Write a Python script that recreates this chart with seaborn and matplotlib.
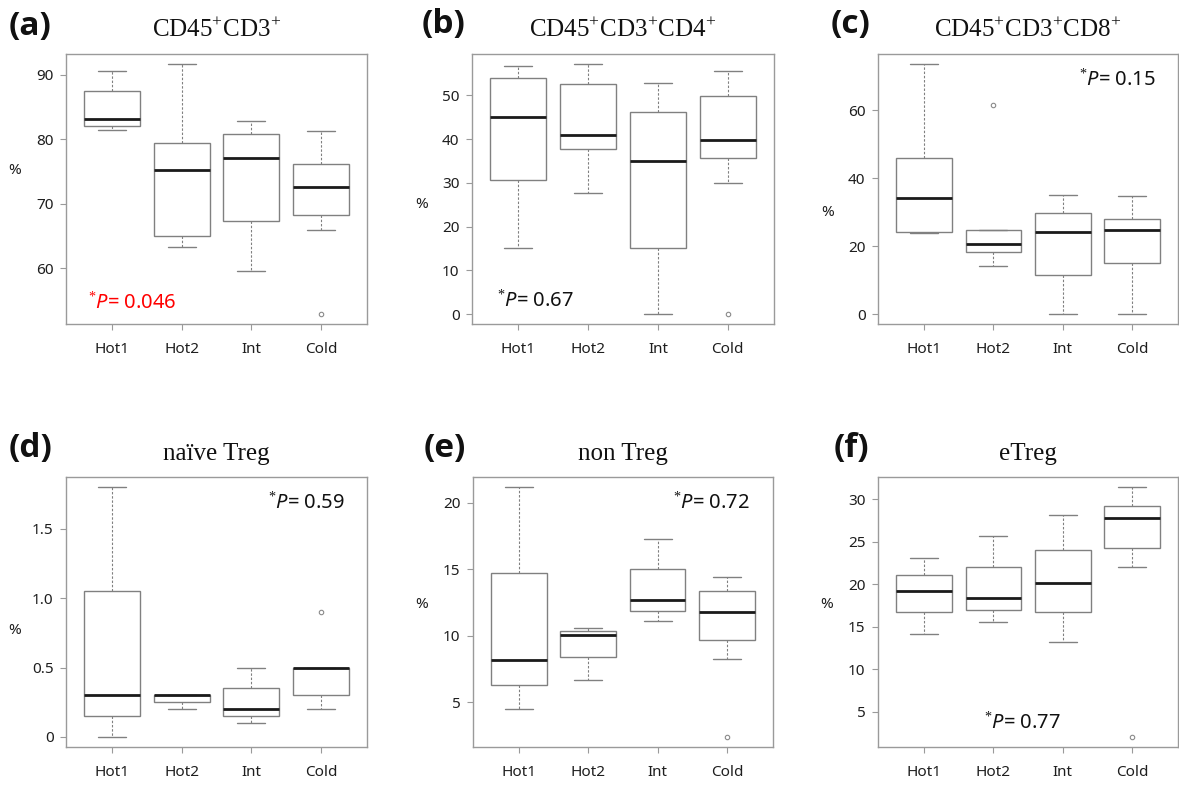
import matplotlib
matplotlib.use("Agg")
import matplotlib.pyplot as plt
import numpy as np
import pandas as pd
import seaborn as sns

# ---- data -------------------------------------------------------------
groups = ["Hot1", "Hot2", "Int", "Cold"]

cd3_values = [
    [81.5, 82.15, 83.1, 87.45, 90.6],
    [63.3, 65.0, 75.3, 79.45, 91.7],
    [59.6, 67.4, 77.1, 80.8, 82.8],
    [52.9, 66.0, 68.3, 70.5, 72.6, 74.5, 76.2, 79.0, 81.3],
]
cd4_values = [
    [15.2, 30.55, 45.1, 53.9, 56.7],
    [27.6, 37.8, 41.05, 52.6, 57.2],
    [0.0, 15.2, 34.9, 46.2, 52.9],
    [0.0, 30.0, 35.7, 37.5, 39.7, 45.0, 49.9, 53.0, 55.7],
]
cd8_values = [
    [23.9, 24.2, 34.2, 46.0, 73.7],
    [14.1, 16.0, 18.2, 19.5, 20.6, 22.5, 24.8, 24.8, 61.6],
    [0.0, 11.5, 24.1, 29.8, 35.0],
    [0.0, 15.0, 24.9, 28.1, 34.7],
]
naive_treg_values = [
    [0.0, 0.15, 0.3, 1.05, 1.8],
    [0.2, 0.25, 0.3, 0.3, 0.3],
    [0.1, 0.15, 0.2, 0.35, 0.5],
    [0.2, 0.25, 0.3, 0.4, 0.5, 0.5, 0.5, 0.5, 0.9],
]
non_treg_values = [
    [4.5, 6.33, 8.2, 14.7, 21.2],
    [6.7, 8.4, 10.1, 10.4, 10.6],
    [11.1, 11.9, 12.7, 15.0, 17.3],
    [2.4, 8.3, 9.7, 10.8, 11.8, 12.6, 13.4, 14.0, 14.4],
]
etreg_values = [
    [14.2, 16.7, 19.2, 21.15, 23.1],
    [15.6, 16.95, 18.45, 22.05, 25.7],
    [13.2, 16.7, 20.2, 24.05, 28.1],
    [2.05, 22.1, 24.25, 26.5, 27.8, 28.5, 29.2, 30.5, 31.45],
]

panel_letters = ["(a)", "(b)", "(c)", "(d)", "(e)", "(f)"]
panel_titles = [
    r"CD45$^{+}$CD3$^{+}$",
    r"CD45$^{+}$CD3$^{+}$CD4$^{+}$",
    r"CD45$^{+}$CD3$^{+}$CD8$^{+}$",
    "naïve Treg",
    "non Treg",
    "eTreg",
]
p_values = ["0.046", "0.67", "0.15", "0.59", "0.72", "0.77"]
y_ticks = [
    [60, 70, 80, 90],
    [0, 10, 20, 30, 40, 50],
    [0, 20, 40, 60],
    [0, 0.5, 1.0, 1.5],
    [5, 10, 15, 20],
    [5, 10, 15, 20, 25, 30],
]
y_tick_labels = [
    ["60", "70", "80", "90"],
    ["0", "10", "20", "30", "40", "50"],
    ["0", "20", "40", "60"],
    ["0", "0.5", "1.0", "1.5"],
    ["5", "10", "15", "20"],
    ["5", "10", "15", "20", "25", "30"],
]
all_values = [cd3_values, cd4_values, cd8_values,
              naive_treg_values, non_treg_values, etreg_values]

# ---- style ------------------------------------------------------------
sns.set_style("ticks")
plt.rcParams["font.family"] = ["Noto Sans", "DejaVu Sans"]
plt.rcParams["mathtext.fontset"] = "custom"
plt.rcParams["mathtext.rm"] = "Liberation Serif"
plt.rcParams["mathtext.it"] = "Noto Sans:italic"
plt.rcParams["mathtext.bf"] = "Liberation Serif:bold"

W, H = 1179, 786
fig = plt.figure(figsize=(W / 100, H / 100), dpi=100)
fig.patch.set_facecolor("white")

# axes boxes in pixels: left, top, right, bottom
boxes = [
    (66, 54, 367, 324), (472, 54, 774, 324), (878, 54, 1178, 324),
    (66, 477, 367, 747), (473, 477, 773, 747), (878, 477, 1178, 747),
]
# annotation placement (axes fraction)
p_pos = [(0.073, 0.08), (0.083, 0.085), (0.671, 0.904),
         (0.671, 0.904), (0.667, 0.904), (0.352, 0.089)]
p_colors = ["#ff0000", "#111111", "#111111", "#111111", "#111111", "#111111"]
letter_pos = [(9, 26), (422, 25), (831, 25), (9, 448), (424, 448), (834, 448)]
pct_pos = [(15, 171), (422, 205), (828, 213), (15, 630), (422, 604), (827, 604)]

frame_col = "#9a9a9a"
box_col = "#808080"


def px(x, y):
    return x / W, 1 - y / H


for i, (values, box) in enumerate(zip(all_values, boxes)):
    l, t, r, b = box
    ax = fig.add_axes([l / W, 1 - b / H, (r - l) / W, (b - t) / H])
    df = pd.DataFrame({
        "group": np.concatenate([[g] * len(v) for g, v in zip(groups, values)]),
        "value": np.concatenate(values),
    })
    sns.boxplot(
        data=df, x="group", y="value", order=groups, ax=ax,
        width=0.8, color="white", linecolor=box_col, linewidth=1.0,
        whis=1.5, fliersize=3.2,
        medianprops=dict(color="#1a1a1a", linewidth=2.0),
        whiskerprops=dict(linestyle=(0, (2.2, 1.6)), linewidth=0.8),
        capprops=dict(linewidth=1.0),
        flierprops=dict(marker="o", markerfacecolor="none",
                        markeredgecolor="#8a8a8a", markeredgewidth=0.8),
    )
    flat = np.concatenate(values)
    lo, hi = flat.min(), flat.max()
    pad = 0.04 * (hi - lo)
    ax.set_ylim(lo - pad, hi + pad)
    ax.set_xlim(-0.66, 3.66)
    ax.set_yticks(y_ticks[i])
    ax.set_yticklabels(y_tick_labels[i])
    ax.set_xlabel("")
    ax.set_ylabel("")
    for s in ax.spines.values():
        s.set_visible(True)
        s.set_color(frame_col)
        s.set_linewidth(1.0)
    ax.tick_params(axis="both", direction="out", length=4, width=0.8,
                   color=frame_col, labelcolor="#1e1e1e", labelsize=11)
    ax.tick_params(axis="y", pad=5)
    ax.tick_params(axis="x", pad=9)

    ax.text(p_pos[i][0], p_pos[i][1], r"$^{*}P$= " + p_values[i],
            transform=ax.transAxes, ha="left", va="center",
            fontsize=14.5, color=p_colors[i])

    # panel title above the frame
    cx = (l + r) / 2
    fig.text(*px(cx, t - 17), panel_titles[i], ha="center", va="baseline",
             fontsize=18, family="Liberation Serif", color="#111111")
    fig.text(*px(*letter_pos[i]), panel_letters[i], ha="left", va="center",
             fontsize=24, fontweight="bold", family=["Open Sans", "DejaVu Sans"],
             color="#111111")
    fig.text(*px(*pct_pos[i]), "%", ha="center", va="center",
             fontsize=11, color="#1e1e1e")

fig.savefig("out.png", dpi=100, facecolor="white")
